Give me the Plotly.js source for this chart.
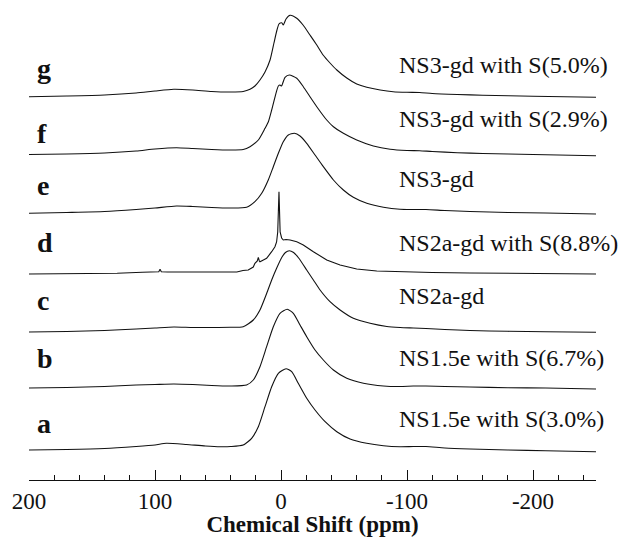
<!DOCTYPE html>
<html>
<head>
<meta charset="utf-8">
<script src="https://cdn.plot.ly/plotly-3.0.1.min.js"></script>
<style>html,body{margin:0;padding:0;background:#fff;}#chart{width:619px;height:537px;}</style>
</head>
<body>
<div id="chart"></div>
<script>
// ---- data (ppm, intensity above each trace's own baseline) ----
const ppm_a = [200,170,140,115,100,91,75,60,48,40,30,23.3,18,12.7,7.4,2.1,-4,-8.5,-13.7,-20.4,-27,-35,-44.3,-54.8,-68,-81.3,-94.5,-105,-115,-130,-150,-180,-210,-250];
const int_a = [1,1.5,2.5,4.5,6,7.7,6.5,5,4.3,4.5,6,12.7,24.3,44.3,64.3,77.7,82.3,79.3,67.7,52.7,41,29.3,19.3,12,7.7,5.3,4.3,4.5,4.5,3,2,1,0.3,-0.7];

const ppm_b = [200,170,140,115,100,85,70,55,40,27.3,22,16.7,11.4,6.1,0.8,-5,-9.8,-15.1,-20.4,-27,-33.6,-41.6,-52.2,-65.4,-81.3,-94.5,-105,-115,-130,-150,-180,-210,-250];
const int_b = [0,0.5,1.5,3,3.5,4,3.5,2.5,2,3,8,21.3,41.3,61.3,74.7,78.7,74.7,63,51.3,38,28,18,9.7,4.7,2,1.5,2,2,1.5,1,0.3,0,-1];

const ppm_c = [200,170,140,115,100,85,70,55,40,30,22,16.7,11.4,7.4,3.4,-0.8,-3.5,-6.6,-10,-14,-20.4,-25.7,-31,-38.9,-46.9,-57.4,-70.7,-84,-94.5,-105,-115,-130,-150,-180,-210,-250];
const int_c = [0,0.5,1.5,3,4,5,4.5,4.5,4.7,5.3,12,22,38.5,52,64,75,79.5,81.3,79.5,74,62,52,42,30.3,22,13.7,8.7,5.5,4.5,4,3.5,2.5,1.5,0.7,0.2,-0.3];

const ppm_d = [200,160,130,110,100,97,96,95,90,70,50,35,30.2,26,22,20.7,18.8,18,17.2,16.7,14,11.4,7.4,4.8,3.5,2.6,1.6,0.7,-0.5,-1.8,-4,-7.2,-12.5,-17.7,-25.7,-36.3,-46.9,-60.1,-76,-94.5,-120,-150,-200,-250];
const int_d = [0,0.3,0.7,1.7,2,2.3,4.7,2.3,2,2,2,2,3.5,4,7,10.7,13,16.7,13,12.3,14,15.7,22.3,27.3,32,42,82.3,42,36,34,34.5,34,32.3,29,22.3,14,9,5,3,2.3,1.5,1,0.5,0];

const ppm_e = [200,170,140,115,100,83,70,55,40,27.3,20.7,15.3,10.1,6.1,2.1,-1.8,-5.8,-10.6,-15.1,-20.4,-27,-33.6,-41.6,-49.5,-57.4,-68.1,-81.3,-94.5,-105,-115,-130,-150,-180,-210,-250];
const int_e = [-0.3,0.5,1.5,3.5,5,7,6.5,5.5,5,5.7,11.3,19.7,33,46.3,59.7,71.3,78,79.7,77,69.7,58,46.3,33,23,15.7,9.7,5.7,3.7,3.5,3.5,2.5,1.5,0.5,0,-1];

const ppm_f = [200,170,140,115,100,83,70,55,40,30,24.6,18,12.7,10.1,7.4,4,2.1,0.8,-0.4,-3.2,-6.6,-12.5,-17.7,-23,-28.4,-36.3,-41.6,-49.5,-60.1,-73.3,-86.6,-100,-110,-120,-140,-160,-200,-250];
const int_f = [0.5,1,2,4,6,7.3,6.5,5.5,5,5.5,8.3,15,26.7,33,45,61.7,69,70,69,77.7,80,76.7,68.3,58.3,48.3,35,28.3,21.7,15,9,5.7,4.5,4.3,3.5,2.3,1.5,0.5,-0.7];

const ppm_g = [200,170,140,115,100,85,70,55,40,30,24.6,20.7,16.7,12.7,8.7,5.6,3.2,1.6,-0.6,-1.8,-4,-7.2,-12.5,-17.5,-23,-28.4,-33.4,-38.9,-44.3,-52.2,-60.1,-68.1,-78.7,-89,-100,-110,-120,-140,-160,-200,-250];
const int_g = [0.3,1,2,4,6,7.7,7,5.5,5,5.5,7.7,11,17,25,37,54,67,73,74.3,72,78,81.7,78.7,72,62,52,42,34,27,19,13,9.7,7,5.3,4.7,4.5,3.5,2.5,1.8,0.7,-0.3];

const letters = ['a','b','c','d','e','f','g'];
const sampleNames = ['NS1.5e with S(3.0%)','NS1.5e with S(6.7%)','NS2a-gd','NS2a-gd with S(8.8%)','NS3-gd','NS3-gd with S(2.9%)','NS3-gd with S(5.0%)'];
const offsets = [29, 92, 148, 206, 267, 325, 383];   // stacking offset of each trace

const tickVals = [200, 100, 0, -100, -200];
const tickText = ['200', '100', '0', '-100', '-200'];

// ---- build ----
const ppms = [ppm_a, ppm_b, ppm_c, ppm_d, ppm_e, ppm_f, ppm_g];
const ints = [int_a, int_b, int_c, int_d, int_e, int_f, int_g];

const traces = ppms.map((p, i) => ({
  x: p,
  y: ints[i].map(v => v + offsets[i]),
  type: 'scatter', mode: 'lines',
  line: {color: '#111', width: 1.1, shape: i === 3 ? 'linear' : 'spline', smoothing: 0.6},
  hoverinfo: 'skip', showlegend: false
}));

const SERIF = '"Liberation Serif", "Times New Roman", Times, serif';

// layout helpers (pixel -> paper)
const L = 29, W = 567, H = 480;
const px = x => (x - L) / W;
const py = y => (H - y) / H;

const letterBase = [433.3, 368, 310, 251.7, 195, 143.3, 78.3];
const labelBase  = [428.3, 366.7, 305, 251.7, 188.3, 128.3, 74];

const annotations = [];
letters.forEach((t, i) => {
  annotations.push({
    text: '<b>' + t + '</b>', xref: 'paper', yref: 'paper',
    x: px(35), y: py(letterBase[i] + 8), xanchor: 'left', yanchor: 'bottom',
    showarrow: false, font: {family: SERIF, size: 28, color: '#111'}
  });
  annotations.push({
    text: sampleNames[i], xref: 'paper', yref: 'paper',
    x: px(397), y: py(labelBase[i] + 6), xanchor: 'left', yanchor: 'bottom',
    showarrow: false, font: {family: SERIF, size: 24, color: '#111'}
  });
});

const layout = {
  width: 619, height: 537,
  margin: {l: L, r: 619 - L - W, t: 0, b: 537 - H},
  paper_bgcolor: '#fff', plot_bgcolor: '#fff',
  font: {family: SERIF, color: '#111'},
  showlegend: false,
  xaxis: {
    range: [200, -250], showgrid: false, zeroline: false,
    showline: true, linecolor: '#111', linewidth: 1,
    ticks: 'inside', ticklen: 10, tickwidth: 1, tickcolor: '#111',
    tickmode: 'array', tickvals: tickVals, ticktext: tickText,
    minor: {tick0: 0, dtick: 20, ticks: 'inside', ticklen: 5, tickwidth: 1, tickcolor: '#111', showgrid: false},
    tickfont: {family: SERIF, size: 23, color: '#111'},
    title: {text: '<b>Chemical Shift (ppm)</b>', font: {family: SERIF, size: 23, color: '#111'}, standoff: 14}
  },
  yaxis: {range: [0, H], visible: false, fixedrange: true},
  annotations: annotations
};

Plotly.newPlot('chart', traces, layout, {displayModeBar: false, staticPlot: true});
</script>
</body>
</html>
